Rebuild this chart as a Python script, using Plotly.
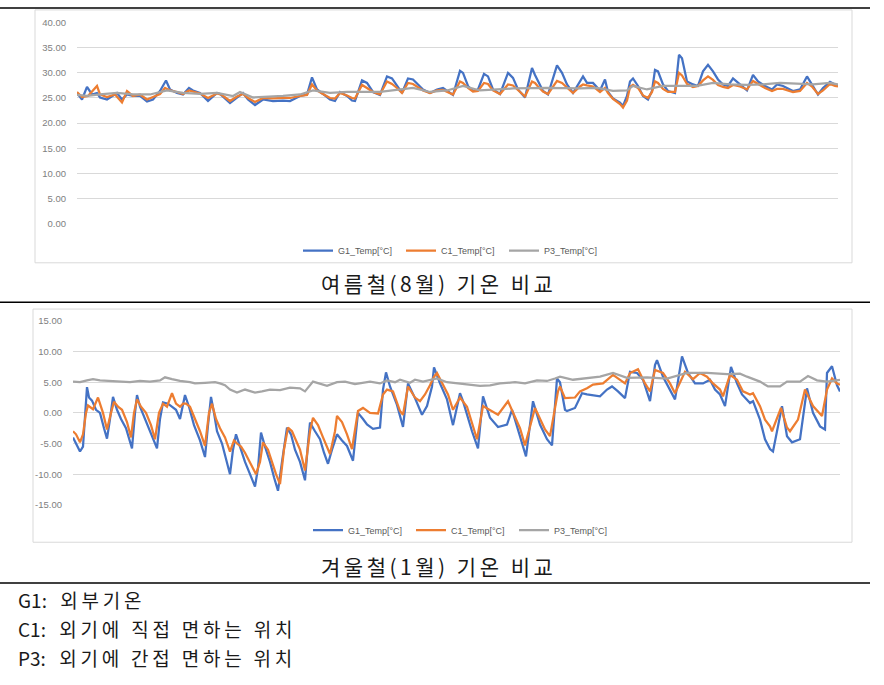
import plotly.graph_objects as go

# ---------------- data (time index in hours, temperature in degC) ----------------
g1_aug = [(0,26.0),(5,24.7),(10,27.2),(15,25.7),(20,26.0),(23,25.1),(30,24.7),(36,25.4),(40,26.0),(45,24.7),
          (50,25.7),(56,25.4),(63,25.4),(70,24.3),(76,24.7),(83,26.4),(89,28.5),(93,26.7),(100,26.0),(106,25.7),
          (112,27.0),(116,26.5),(123,26.0),(131,24.4),(140,26.0),(143,25.8),(153,24.0),(160,25.1),(166,26.0),(171,24.7),
          (178,23.6),(186,24.7),(196,24.4),(206,24.5),(213,24.4),(223,25.4),(230,25.7),(235,29.1),(240,26.7),(246,25.8),
          (253,24.7),(258,24.4),(263,26.2),(270,25.4),(275,24.5),(278,24.4),(285,28.5),(290,28.0),(296,26.2),(303,25.6),
          (310,29.3),(315,28.9),(320,27.4),(325,26.0),(331,28.9),(336,28.7),(341,27.7),(346,26.7),(353,26.0),(360,26.7),
          (366,27.0),(373,26.0),(376,25.6),(383,30.4),(386,30.0),(391,27.4),(396,26.4),(401,26.7),(407,29.8),(411,29.3),
          (416,26.7),(423,25.8),(431,30.0),(436,29.0),(441,26.7),(448,25.1),(455,31.0),(458,29.6),(461,28.3),(466,26.4),
          (471,25.7),(480,31.5),(485,30.0),(490,27.7),(496,26.0),(503,28.3),(506,29.3),(510,28.0),(516,28.0),(523,26.5),
          (528,28.7),(531,26.2),(536,24.9),(543,24.1),(546,23.4),(550,25.4),(553,28.3),(556,28.9),(561,27.4),(566,25.4),
          (571,24.7),(575,26.4),(578,30.6),(581,30.3),(586,27.7),(591,26.4),(598,26.0),(602,33.6),(605,32.9),(610,28.3),
          (616,27.7),(621,27.4),(626,30.3),(631,31.6),(636,30.3),(641,28.7),(646,27.7),(651,27.4),(656,28.9),(663,27.7),
          (670,26.5),(676,29.6),(681,28.3),(688,27.4),(695,26.7),(700,27.7),(706,27.4),(716,26.4),(723,26.7),(730,29.3),
          (735,27.7),(741,25.7),(746,27.0),(753,28.2),(758,27.7),(761,27.5)]
c1_aug = [(0,26.2),(5,25.2),(11,25.4),(20,27.4),(23,25.7),(30,25.2),(38,25.7),(45,24.1),(50,26.4),(56,25.4),
          (63,25.7),(70,24.7),(76,25.2),(83,25.8),(88,27.0),(93,26.5),(100,26.2),(106,25.8),(112,26.5),(118,26.2),
          (123,25.9),(131,25.0),(140,25.9),(145,25.6),(153,24.4),(160,25.3),(166,25.8),(171,25.0),(178,24.2),(186,25.0),
          (196,24.9),(206,25.0),(213,25.0),(223,25.4),(230,25.6),(235,27.7),(240,26.5),(246,25.8),(253,25.0),(258,24.9),
          (263,26.0),(270,25.5),(275,25.0),(278,24.9),(285,27.6),(290,27.0),(296,26.2),(303,25.7),(310,28.3),(315,27.8),
          (320,27.0),(325,26.0),(331,28.0),(336,27.8),(341,27.2),(346,26.5),(353,26.0),(360,26.5),(366,26.6),(373,26.0),
          (376,25.7),(383,28.3),(386,28.0),(391,27.0),(396,26.3),(401,26.4),(407,28.0),(411,27.8),(416,26.5),(423,25.8),
          (431,27.7),(436,27.5),(441,26.5),(448,25.3),(455,28.3),(458,28.0),(461,27.3),(466,26.3),(471,25.8),(480,28.4),
          (485,28.0),(490,27.0),(496,26.0),(503,27.3),(506,27.7),(510,27.5),(516,27.3),(523,26.2),(528,27.0),(531,26.0),
          (536,24.8),(543,23.8),(546,23.1),(550,24.5),(553,27.2),(556,27.6),(561,27.0),(566,25.5),(571,25.0),(575,26.2),
          (578,28.3),(581,28.0),(586,26.8),(591,26.2),(598,26.2),(602,30.0),(605,29.5),(610,27.8),(616,27.2),(621,27.4),
          (626,28.5),(631,29.3),(636,28.6),(641,27.6),(646,27.2),(651,27.0),(656,27.6),(663,27.3),(670,26.7),(676,28.4),
          (681,27.8),(688,27.0),(695,26.4),(700,26.8),(706,26.8),(716,26.2),(723,26.4),(730,28.0),(735,27.3),(741,25.8),
          (746,26.5),(753,27.8),(758,27.4),(761,27.3)]
p3_aug = [(0,25.6),(10,25.4),(23,25.7),(40,26.0),(56,25.7),(73,25.7),(90,26.5),(106,26.0),(123,25.8),(140,26.0),
          (156,25.4),(163,26.2),(176,25.1),(190,25.2),(206,25.4),(223,25.7),(236,26.5),(253,26.0),(270,26.2),(303,26.2),
          (336,27.0),(353,26.2),(370,26.5),(386,27.4),(403,26.5),(436,26.9),(470,27.0),(503,26.9),(520,27.0),(536,26.4),
          (550,26.5),(556,27.4),(570,26.7),(586,27.4),(603,27.4),(620,27.4),(636,28.0),(653,27.7),(670,27.6),(686,27.7),
          (703,28.0),(720,27.8),(736,27.7),(753,28.0),(761,27.7)]

g1_jan = [(0,-4.0),(3,-5.0),(7,-6.3),(10,-5.5),(13,1.0),(14,4.2),(16,2.5),(19,2.0),(23,0.5),(27,0.0),
          (31,-2.5),(34,-4.2),(37,-1.0),(40,2.6),(44,0.5),(48,-1.0),(53,-2.5),(59,-5.8),(62,0.0),(64,2.9),
          (67,1.0),(72,-1.0),(77,-3.0),(84,-5.8),(87,-1.0),(90,1.7),(95,1.5),(99,1.0),(103,0.5),(107,-1.0),
          (112,2.9),(116,1.0),(121,-2.0),(127,-4.5),(132,-7.2),(135,-2.0),(138,2.6),(141,0.0),(144,-3.0),(149,-5.0),
          (153,-7.5),(157,-10.0),(160,-6.0),(163,-3.5),(167,-5.5),(172,-8.0),(177,-10.0),(182,-12.0),(185,-9.0),(188,-3.2),
          (192,-5.5),(197,-8.0),(201,-10.5),(205,-12.7),(209,-8.0),(214,-2.4),(218,-3.5),(222,-6.0),(227,-8.0),(232,-11.0),
          (235,-5.0),(237,-1.6),(242,-3.0),(247,-4.3),(251,-6.5),(255,-8.3),(259,-6.0),(264,-3.5),(269,-4.5),(274,-5.4),
          (280,-7.8),(285,0.0),(290,-1.0),(294,-1.9),(300,-2.6),(307,-2.4),(310,3.8),(313,6.6),(317,4.3),(324,1.3),
          (330,-2.3),(335,4.8),(342,2.4),(349,-0.3),(354,1.1),(359,4.3),(361,7.4),(367,4.8),(374,2.2),(380,-2.0),
          (387,3.2),(390,1.9),(399,-3.0),(405,-5.8),(410,2.7),(417,-0.8),(425,-2.3),(434,-1.9),(439,0.5),(447,-3.8),
          (453,-7.1),(460,1.9),(467,-1.9),(474,-4.3),(479,-5.3),(484,5.6),(487,5.0),(492,0.5),(494,0.3),(502,0.8),
          (509,3.2),(514,3.0),(527,2.7),(534,3.8),(539,4.3),(545,3.5),(552,2.4),(557,6.7),(564,6.5),(570,5.4),
          (577,1.9),(582,7.8),(584,8.6),(590,5.9),(597,3.8),(602,2.2),(609,9.2),(615,6.5),(622,4.8),(630,4.8),
          (637,5.4),(642,3.8),(647,3.0),(652,1.1),(658,7.5),(664,4.8),(669,3.0),(677,1.6),(680,1.9),(687,-1.1),
          (692,-4.3),(697,-5.9),(700,-6.3),(705,-2.0),(709,1.1),(714,-3.8),(719,-4.8),(727,-4.3),(734,4.0),(740,0.0),
          (747,-2.2),(752,-2.7),(754,6.5),(759,7.6),(764,4.5),(767,3.5)]
c1_jan = [(0,-3.0),(3,-3.5),(7,-4.8),(10,-3.5),(13,0.0),(15,1.2),(20,0.6),(25,2.5),(30,0.0),(34,-2.7),
          (38,0.0),(41,1.8),(45,1.0),(49,0.5),(54,-1.5),(58,-4.0),(61,0.0),(64,2.2),(68,1.0),(73,0.0),
          (78,-2.0),(82,-4.3),(86,0.0),(90,1.5),(94,1.0),(99,3.2),(103,1.5),(107,1.0),(110,1.5),(113,1.5),
          (117,1.0),(122,-1.0),(127,-3.0),(132,-5.4),(136,0.0),(139,1.5),(143,-1.0),(147,-2.5),(152,-4.0),(157,-6.3),
          (161,-4.5),(164,-5.0),(168,-5.5),(172,-6.5),(177,-8.0),(183,-10.0),(187,-8.0),(190,-4.8),(195,-6.0),(199,-8.0),
          (203,-10.0),(207,-11.6),(211,-6.0),(215,-2.4),(219,-3.0),(223,-4.5),(227,-6.0),(232,-9.4),(237,-3.0),(240,-0.8),
          (245,-2.0),(250,-4.0),(257,-6.7),(262,-3.0),(264,-0.5),(269,-1.5),(274,-3.5),(279,-5.9),(285,0.3),(290,0.8),
          (297,0.0),(305,-0.1),(310,3.0),(314,3.8),(320,3.5),(327,0.3),(330,-0.3),(335,4.3),(342,2.5),(347,1.9),
          (352,3.0),(357,4.5),(361,5.9),(364,6.5),(372,4.0),(375,3.0),(380,0.5),(387,2.5),(394,1.0),(400,-2.2),
          (404,-4.3),(410,1.1),(417,0.5),(425,-0.3),(435,1.9),(440,0.0),(447,-2.5),(452,-5.3),(462,0.8),(472,-2.7),
          (477,-3.8),(485,3.5),(487,4.3),(492,2.4),(502,2.5),(507,3.5),(514,4.0),(520,4.6),(530,4.8),(540,6.2),
          (549,5.1),(552,4.8),(557,6.5),(565,7.1),(572,4.8),(577,3.5),(582,7.0),(590,6.5),(597,4.8),(602,3.2),
          (612,6.7),(620,5.5),(627,6.5),(634,5.9),(640,4.8),(647,3.8),(650,2.7),(657,6.2),(664,5.4),(670,3.5),
          (677,3.0),(680,3.2),(687,1.1),(692,-1.1),(697,-2.2),(699,-3.0),(708,0.8),(714,-2.4),(717,-3.0),(725,-1.1),
          (732,3.8),(740,1.1),(749,-0.5),(754,3.8),(759,5.6),(764,4.8),(767,4.6)]
p3_jan = [(0,5.1),(7,5.0),(14,5.3),(20,5.5),(27,5.3),(37,5.2),(47,5.0),(57,5.0),(67,5.2),(77,5.1),
          (87,5.3),(92,5.8),(99,5.5),(107,5.2),(117,5.0),(122,4.8),(132,4.9),(142,5.0),(147,4.8),(152,4.5),
          (157,3.8),(164,3.3),(172,3.8),(177,3.6),(182,3.3),(189,3.5),(197,3.8),(207,3.7),(217,4.1),(227,4.0),
          (232,3.5),(240,5.1),(247,4.8),(254,4.4),(264,5.0),(272,5.1),(282,4.7),(292,4.9),(297,5.1),(307,4.8),
          (314,5.3),(322,5.0),(327,5.4),(337,4.9),(342,5.4),(350,5.1),(364,5.6),(374,5.0),(387,4.8),(397,4.6),
          (407,4.4),(417,4.5),(427,4.8),(442,5.0),(452,4.8),(464,5.3),(474,5.2),(482,5.6),(487,5.9),(500,5.4),
          (514,5.6),(527,5.9),(540,6.5),(554,5.7),(574,5.8),(594,5.6),(614,6.5),(634,6.5),(654,6.3),(667,6.4),
          (674,5.9),(687,5.1),(695,4.3),(707,4.3),(714,5.1),(727,5.1),(735,6.0),(744,5.3),(754,5.1),(767,5.4)]

series_names = ["G1_Temp[°C]", "C1_Temp[°C]", "P3_Temp[°C]"]
series_colors = ["#4472C4", "#ED7D31", "#A5A5A5"]
aug_ticks = [0, 5, 10, 15, 20, 25, 30, 35, 40]
jan_ticks = [-15, -10, -5, 0, 5, 10, 15]
captions = ["여름철(8월) 기온 비교", "겨울철(1월) 기온 비교"]
note_codes = ["G1:", "C1:", "P3:"]
note_texts = ["외부기온", "외기에 직접 면하는 위치", "외기에 간접 면하는 위치"]

# ---------------- layout helpers ----------------
W, H = 884, 685
def fx(p): return p / W
def fy(p): return 1 - p / H

fig = go.Figure()
for data, name, col in zip([g1_aug, c1_aug, p3_aug], series_names, series_colors):
    t, v = zip(*data)
    fig.add_trace(go.Scatter(x=list(t), y=list(v), mode="lines", name=name,
                             line=dict(color=col, width=2.25), xaxis="x", yaxis="y",
                             legend="legend"))
for data, name, col in zip([g1_jan, c1_jan, p3_jan], series_names, series_colors):
    t, v = zip(*data)
    fig.add_trace(go.Scatter(x=list(t), y=list(v), mode="lines", name=name,
                             line=dict(color=col, width=2.25), xaxis="x2", yaxis="y2",
                             legend="legend2"))

tickfont = dict(family="Liberation Sans", size=9.5, color="#808080")
legfont = dict(family="Liberation Sans", size=9, color="#595959")

fig.update_layout(
    width=W, height=H, margin=dict(l=0, r=0, t=0, b=0),
    paper_bgcolor="white", plot_bgcolor="white",
    xaxis=dict(domain=[fx(77), fx(838)], range=[0, 761], visible=False),
    yaxis=dict(domain=[fy(221), fy(17)], range=[0, 40], tickvals=aug_ticks, anchor="x",
               ticktext=[f"{v:.2f}" for v in aug_ticks], showgrid=True, gridcolor="#d9d9d9",
               gridwidth=1, zeroline=False, showline=False, ticks="", tickfont=tickfont,
               ticklabelstandoff=10),
    xaxis2=dict(domain=[fx(73), fx(840)], range=[0, 767], visible=False),
    yaxis2=dict(domain=[fy(507), fy(320)], range=[-15, 15], tickvals=jan_ticks,
                ticktext=[f"{v:.2f}" for v in jan_ticks], showgrid=True, gridcolor="#d9d9d9",
                gridwidth=1, zeroline=False, showline=False, ticks="", tickfont=tickfont,
                ticklabelstandoff=10, anchor="x2"),
    legend=dict(orientation="h", x=fx(298), y=fy(234), xanchor="left", yanchor="top",
                font=legfont, bgcolor="rgba(0,0,0,0)", entrywidth=58, entrywidthmode="pixels"),
    legend2=dict(orientation="h", x=fx(308), y=fy(518), xanchor="left", yanchor="top",
                 font=legfont, bgcolor="rgba(0,0,0,0)", entrywidth=58, entrywidthmode="pixels"),
    showlegend=True,
)

shapes = []
# chart frames
shapes.append(dict(type="rect", xref="paper", yref="paper", x0=fx(35), x1=fx(852), y0=fy(261), y1=fy(4),
                   line=dict(color="#d9d9d9", width=1)))
shapes.append(dict(type="rect", xref="paper", yref="paper", x0=fx(33), x1=fx(852), y0=fy(545), y1=fy(308),
                   line=dict(color="#d9d9d9", width=1)))
# black rules
for yy in [2, 301, 586.5]:
    shapes.append(dict(type="line", xref="paper", yref="paper", x0=0, x1=fx(870), y0=fy(yy), y1=fy(yy),
                       line=dict(color="black", width=1.5)))
fig.update_layout(shapes=shapes)

ann = []
cap_y = [282, 569]
for txt, yy in zip(captions, cap_y):
    ann.append(dict(xref="paper", yref="paper", x=fx(438), y=fy(yy), xanchor="center", yanchor="middle",
                    text=f'<span style="letter-spacing:3.5px">{txt}</span>', showarrow=False,
                    font=dict(family="Noto Sans CJK KR", size=21, color="#1a1a1a")))
for code, txt, yy in zip(note_codes, note_texts, [603, 633, 662]):
    ann.append(dict(xref="paper", yref="paper", x=fx(16), y=fy(yy), xanchor="left", yanchor="middle",
                    text=f'{code}<span style="letter-spacing:3.8px">\u2002{txt}</span>',
                    showarrow=False,
                    font=dict(family="Noto Sans CJK KR", size=19, color="#1a1a1a")))
fig.update_layout(annotations=ann)

fig.write_html("out.html")
